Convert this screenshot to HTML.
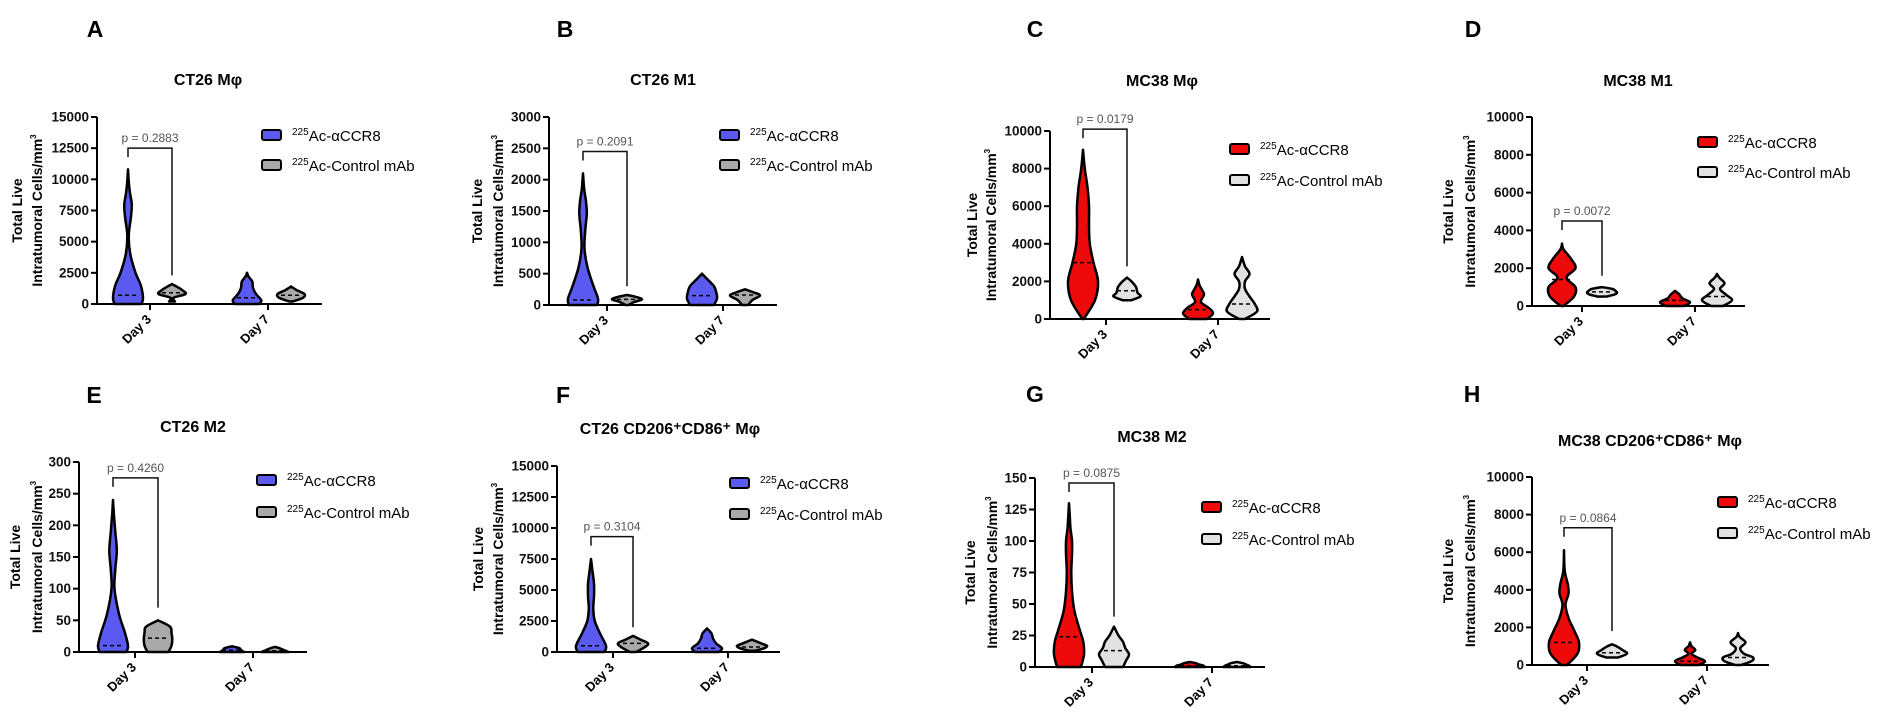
<!DOCTYPE html>
<html><head><meta charset="utf-8">
<style>
html,body{margin:0;padding:0;background:#fff;}
svg{display:block;font-family:"Liberation Sans",Arial,sans-serif;}
</style></head>
<body>
<svg id="fig" width="1890" height="720" viewBox="0 0 1890 720"></svg>
<script>
// ---- data ----
const panelLetters = ["A","B","C","D","E","F","G","H"];
const panelTitles = ["CT26 Mφ","CT26 M1","MC38 Mφ","MC38 M1","CT26 M2","CT26 CD206⁺CD86⁺ Mφ","MC38 M2","MC38 CD206⁺CD86⁺ Mφ"];
const categories = ["Day 3","Day 7"];
const seriesNames = ["Ac-αCCR8","Ac-Control mAb"];
const yMax = [15000,3000,10000,10000,300,15000,150,10000];
const yStep = [2500,500,2000,2000,50,2500,25,2000];
const pValues = ["p = 0.2883","p = 0.2091","p = 0.0179","p = 0.0072","p = 0.4260","p = 0.3104","p = 0.0875","p = 0.0864"];
const bracketTop = [12500,2450,10100,4500,275,9300,146,7300];
const bracketRight = [2300,300,2800,1600,70,2000,40,1800];
const medians = [[700,900,500,700],[80,90,150,160],[3000,1500,500,800],[1400,750,300,500],[10,22,3,2],[500,700,300,400],[24,13,1,1],[1200,650,200,400]];
// violin profiles: values and relative widths; order: d3-treated, d3-control, d7-treated, d7-control
const violinValues = [
 [[0,500,1500,2500,4000,5500,7000,8000,9000,10000,10800],[200,500,800,1100,1400,1600],[0,300,800,1300,1800,2200,2500],[200,500,800,1100,1400]],
 [[0,100,300,600,900,1200,1450,1650,1850,2100],[0,50,90,130,160],[0,100,200,300,400,500],[0,80,150,200,250]],
 [[0,1000,2000,3000,4000,5000,6000,7000,8000,9000],[1000,1200,1400,1700,2000,2200],[0,300,600,900,1300,1500,1800,2100],[0,400,800,1200,1600,2000,2400,2800,3300]],
 [[0,500,1000,1500,2000,2500,3000,3300],[500,600,700,800,900,1000],[0,200,400,600,800],[0,300,600,900,1200,1500,1700]],
 [[0,10,30,60,100,130,160,190,220,240],[0,10,20,30,40,50],[0,3,6,9],[0,3,6,8]],
 [[0,500,1500,2500,3500,4500,5500,6500,7500],[0,400,700,1000,1300],[0,300,700,1100,1500,1900],[100,300,500,700,1000]],
 [[0,10,20,30,45,60,75,90,100,110,120,130],[0,5,10,15,20,25,32],[0,1,2,3,4],[0,1,2,3,4]],
 [[0,600,1200,1800,2500,3200,3800,4300,5000,6100],[400,600,800,1000,1100],[0,200,400,600,800,1000,1200],[0,200,400,600,900,1200,1500,1700]]
];
const violinWidths = [
 [[0.9,1,0.85,0.5,0.15,0.05,0.2,0.25,0.12,0.04,0],[0.2,0.1,0.9,0.7,0.3,0],[0.8,0.95,0.6,0.4,0.35,0.1,0],[0.1,0.8,0.9,0.4,0]],
 [[0.95,1,0.7,0.3,0.1,0.15,0.25,0.2,0.08,0],[0.1,0.5,1,0.6,0],[0.8,1,0.95,0.8,0.4,0],[0.2,0.5,1,0.6,0]],
 [[0.05,0.8,1,0.7,0.45,0.4,0.4,0.3,0.12,0],[0.3,0.9,0.7,0.6,0.3,0],[0.6,1,0.7,0.2,0.4,0.3,0.1,0],[0.2,1,0.85,0.5,0.2,0.2,0.5,0.2,0]],
 [[0.1,0.8,0.9,0.3,0.9,0.6,0.1,0],[0.3,0.8,1,0.9,0.7,0],[0.6,1,0.5,0.3,0],[0.4,1,0.6,0.2,0.5,0.15,0]],
 [[0.9,1,0.8,0.4,0.1,0.15,0.25,0.15,0.05,0],[0.7,0.9,0.95,0.9,0.8,0],[0.8,0.6,0.5,0],[0.9,0.6,0.3,0]],
 [[0.9,1,0.6,0.25,0.15,0.2,0.2,0.1,0],[0.2,0.8,1,0.5,0],[0.8,1,0.6,0.4,0.3,0],[0.2,0.8,1,0.6,0]],
 [[0.8,1,0.95,0.7,0.35,0.2,0.15,0.2,0.2,0.1,0.05,0],[0.6,0.8,1,0.75,0.6,0.3,0],[1,0.9,0.6,0.4,0],[0.9,0.8,0.6,0.4,0]],
 [[0.2,0.9,1,0.7,0.3,0.1,0.3,0.25,0.05,0],[0.4,1,0.7,0.3,0],[0.6,1,0.5,0.1,0.35,0.1,0],[0.2,0.9,1,0.4,0.15,0.5,0.1,0]]
];
// ---- layout (pixels) ----
const L = [
 {ax:97,top:117,bot:304,xe:322,vx:[128,172,247,291],tk:[150,268],lg:[262,135,165],ty:85,lx:95,ly:37,yl:[-80,-60]},
 {ax:549,top:117,bot:305,xe:777,vx:[583,627,702,745],tk:[607,723],lg:[720,135,165],ty:85,lx:565,ly:37,yl:[-72,-51]},
 {ax:1050,top:131,bot:319,xe:1270,vx:[1083,1127,1198,1242],tk:[1106,1218],lg:[1230,149,180],ty:86,lx:1035,ly:37,yl:[-78,-59]},
 {ax:1532,top:117,bot:306,xe:1745,vx:[1562,1602,1675,1717],tk:[1582,1695],lg:[1698,142,172],ty:86,lx:1473,ly:37,yl:[-84,-62]},
 {ax:79,top:462,bot:652,xe:307,vx:[113,158,232,275],tk:[135,253],lg:[257,480,512],ty:432,lx:94,ly:403,yl:[-64,-42]},
 {ax:557,top:466,bot:652,xe:780,vx:[591,633,707,752],tk:[613,728],lg:[730,483,514],ty:434,lx:563,ly:403,yl:[-79,-59]},
 {ax:1035,top:478,bot:667,xe:1265,vx:[1069,1114,1190,1237],tk:[1092,1212],lg:[1202,507,539],ty:442,lx:1035,ly:402,yl:[-65,-43]},
 {ax:1532,top:477,bot:665,xe:1769,vx:[1564,1612,1690,1738],tk:[1587,1707],lg:[1718,502,533],ty:446,lx:1472,ly:402,yl:[-84,-62]}
];
const NS="http://www.w3.org/2000/svg";
const svg=document.getElementById('fig');
function mk(tag,attrs,parent,text){const e=document.createElementNS(NS,tag);for(const k in attrs)e.setAttribute(k,attrs[k]);if(text!==undefined)e.textContent=text;(parent||svg).appendChild(e);return e;}
function smooth(pts){let d="M"+pts[0][0]+","+pts[0][1];for(let i=0;i<pts.length-1;i++){const p0=pts[Math.max(0,i-1)],p1=pts[i],p2=pts[i+1],p3=pts[Math.min(pts.length-1,i+2)];const c1=[p1[0]+(p2[0]-p0[0])/6,p1[1]+(p2[1]-p0[1])/6],c2=[p2[0]-(p3[0]-p1[0])/6,p2[1]-(p3[1]-p1[1])/6];d+=` C${c1[0].toFixed(1)},${c1[1].toFixed(1)} ${c2[0].toFixed(1)},${c2[1].toFixed(1)} ${p2[0].toFixed(1)},${p2[1].toFixed(1)}`;}return d;}
for(let p=0;p<8;p++){
 const g=L[p];const red=(p===2||p===3||p===6||p===7);
 const fillA=red?"#ee0a0a":"#5a5af0", fillC=red?"#e2e2e2":"#a9a9a9";
 const y=v=>g.bot-(v/yMax[p])*(g.bot-g.top);
 const grp=mk('g',{});
 
 
 let t=mk('text',{x:g.lx,y:g.ly,'font-size':23,'font-weight':'bold','text-anchor':'middle'},grp,panelLetters[p]);
 
 t=mk('text',{x:[208,663,1162,1638,193,670,1152,1650][p],y:g.ty,'font-size':16,'font-weight':'bold','text-anchor':'middle'},grp,panelTitles[p]);
 
 const my=(g.top+g.bot)/2;
 t=mk('text',{x:g.ax+g.yl[0],y:my,'font-size':14,'font-weight':'bold','text-anchor':'middle',transform:`rotate(-90 ${g.ax+g.yl[0]} ${my})`,dy:5},grp,"Total Live");
 
 t=mk('text',{x:g.ax+g.yl[1],y:my,'font-size':14,'font-weight':'bold','text-anchor':'middle',transform:`rotate(-90 ${g.ax+g.yl[1]} ${my})`,dy:5},grp);
 
 t.innerHTML='Intratumoral Cells/mm<tspan dy="-6" font-size="8">3</tspan>';
 let a=mk('line',{x1:g.ax,y1:g.top,x2:g.ax,y2:g.bot,stroke:'#000','stroke-width':2},grp);
 
 a=mk('line',{x1:g.ax,y1:g.bot,x2:g.xe,y2:g.bot,stroke:'#000','stroke-width':2},grp);
 
 for(let v=0;v<=yMax[p]+1e-9;v+=yStep[p]){
  mk('line',{x1:g.ax-6,y1:y(v),x2:g.ax,y2:y(v),stroke:'#000','stroke-width':2},grp);
  t=mk('text',{x:g.ax-8,y:y(v)+4.5,'font-size':13.5,'font-weight':'bold','text-anchor':'end',fill:'#111'},grp,String(v));
  
 }
 for(let c=0;c<2;c++){
  const tx=g.tk[c];
  mk('line',{x1:tx,y1:g.bot,x2:tx,y2:g.bot+6,stroke:'#000','stroke-width':2},grp);
  t=mk('text',{x:tx+2,y:g.bot+16,'font-size':13,'font-weight':'bold','text-anchor':'end',transform:`rotate(-45 ${tx+2} ${g.bot+16})`},grp,categories[c]);
  
 }
 for(let k=0;k<4;k++){
  const vs=violinValues[p][k], ws=violinWidths[p][k], x0=g.vx[k], hw=15;
  const right=vs.map((v,i)=>[x0+ws[i]*hw,y(v)]);
  const left=vs.map((v,i)=>[x0-ws[i]*hw,y(v)]).reverse();
  let d=smooth(right)+" L"+left[0][0]+","+left[0][1]+smooth(left).replace(/^M[^C]*/,' ')+" Z";
  const pth=mk('path',{d:d,fill:k%2===0?fillA:fillC,stroke:'#000','stroke-width':2.5,'stroke-linejoin':'round'},grp);
  
  
  const mv=medians[p][k];
  const ln=mk('line',{x1:x0-10,y1:y(mv),x2:x0+10,y2:y(mv),stroke:'#000','stroke-width':1.5,'stroke-dasharray':'4,3'},grp);
  
 }
 const bx1=g.vx[0],bx2=g.vx[1],by=y(bracketTop[p]);
 const br=mk('path',{d:`M${bx1},${by+9} L${bx1},${by} L${bx2},${by} L${bx2},${y(bracketRight[p])}`,fill:'none',stroke:'#111','stroke-width':1.5},grp);
 
 t=mk('text',{x:(bx1+bx2)/2,y:by-6,'font-size':12,'text-anchor':'middle',fill:'#555'},grp,pValues[p]);
 
 for(let s=0;s<2;s++){
  const ly=g.lg[1+s];
  const r=mk('rect',{x:g.lg[0],y:ly-5,width:19,height:10,rx:2,fill:s===0?fillA:fillC,stroke:'#000','stroke-width':2},grp);
  
  t=mk('text',{x:g.lg[0]+30,y:ly+6,'font-size':15},grp);
  
  t.innerHTML='<tspan dy="-6" font-size="10">225</tspan><tspan dy="6">'+seriesNames[s]+'</tspan>';
 }
}
</script>
</body></html>
